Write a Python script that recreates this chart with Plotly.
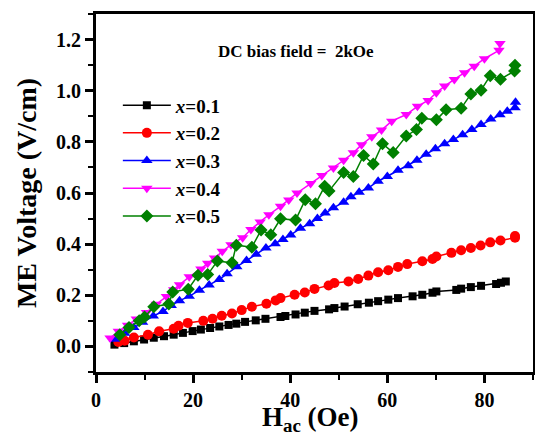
import plotly.graph_objects as go

# ---- data ----
names = ["<i>x</i>=0.1", "<i>x</i>=0.2", "<i>x</i>=0.3", "<i>x</i>=0.4", "<i>x</i>=0.5"]

h1 = [3.8, 5.8, 7.8, 9.9, 11.9, 14.0, 16.0, 17.9, 19.9, 21.6, 23.5, 25.4, 27.3, 28.9, 30.7,
      32.9, 34.9, 38.0, 39.0, 41.1, 43.0, 45.0, 48.0, 49.1, 51.2, 53.9, 56.2, 58.1, 60.2, 62.2,
      65.2, 67.2, 69.3, 70.1, 74.2, 75.2, 77.2, 79.3, 82.4, 83.4, 84.4]
v1 = [0.007, 0.013, 0.020, 0.027, 0.034, 0.040, 0.046, 0.053, 0.060, 0.066, 0.072, 0.078, 0.084,
      0.089, 0.096, 0.102, 0.108, 0.115, 0.119, 0.125, 0.132, 0.139, 0.145, 0.150, 0.156, 0.165,
      0.171, 0.177, 0.183, 0.189, 0.196, 0.202, 0.210, 0.215, 0.221, 0.226, 0.232, 0.237, 0.244,
      0.249, 0.254]

h2 = [4.6, 5.9, 7.8, 10.7, 13.0, 16.0, 17.0, 18.9, 22.1, 24.0, 25.9, 28.0, 30.0, 32.1, 35.1,
      37.0, 38.0, 40.9, 43.0, 45.0, 47.9, 49.1, 52.0, 54.0, 56.1, 58.1, 60.2, 62.2, 64.1, 67.2,
      69.3, 70.1, 73.2, 75.2, 77.2, 79.2, 81.2, 83.3, 86.3, 86.3]
v2 = [0.017, 0.022, 0.035, 0.046, 0.059, 0.069, 0.081, 0.092, 0.100, 0.108, 0.120, 0.129, 0.142,
      0.155, 0.167, 0.180, 0.189, 0.202, 0.211, 0.225, 0.238, 0.248, 0.254, 0.264, 0.277, 0.290,
      0.298, 0.311, 0.322, 0.333, 0.342, 0.352, 0.366, 0.376, 0.385, 0.395, 0.407, 0.414, 0.425,
      0.432]

h3 = [3.8, 5.9, 7.8, 9.6, 11.8, 13.8, 15.5, 17.2, 19.2, 21.3, 23.3, 25.4, 27.0, 29.0, 31.0,
      33.0, 35.0, 36.9, 38.5, 40.1, 42.1, 44.0, 45.6, 47.2, 48.9, 51.0, 52.5, 54.2, 56.1, 58.1,
      60.0, 62.2, 64.3, 66.1, 68.0, 69.9, 71.8, 73.6, 75.5, 77.4, 79.3, 81.3, 83.2, 84.7, 86.3,
      86.4]
v3 = [0.028, 0.052, 0.074, 0.095, 0.119, 0.137, 0.160, 0.179, 0.196, 0.220, 0.240, 0.262, 0.284,
      0.312, 0.336, 0.360, 0.385, 0.402, 0.418, 0.436, 0.462, 0.480, 0.500, 0.522, 0.542, 0.564,
      0.585, 0.603, 0.620, 0.646, 0.665, 0.689, 0.707, 0.728, 0.752, 0.773, 0.793, 0.809, 0.828,
      0.848, 0.868, 0.889, 0.906, 0.920, 0.933, 0.955]

h4 = [2.9, 4.6, 6.5, 8.3, 10.4, 12.4, 14.5, 16.0, 17.2, 19.2, 21.6, 23.0, 24.4, 26.0, 27.8,
      30.2, 31.9, 33.8, 35.6, 38.0, 39.7, 41.4, 44.2, 46.5, 48.9, 51.0, 53.0, 54.7, 56.8, 58.8,
      60.9, 63.9, 66.2, 68.4, 70.1, 71.8, 73.8, 75.9, 77.9, 80.0, 83.0, 83.2]
v4 = [0.033, 0.059, 0.083, 0.107, 0.133, 0.165, 0.195, 0.222, 0.241, 0.272, 0.303, 0.325, 0.346,
      0.372, 0.398, 0.425, 0.457, 0.487, 0.515, 0.548, 0.573, 0.600, 0.637, 0.668, 0.698, 0.728,
      0.757, 0.789, 0.820, 0.846, 0.881, 0.907, 0.939, 0.962, 0.992, 1.018, 1.044, 1.070, 1.096,
      1.125, 1.158, 1.185]

h5 = [4.9, 6.8, 8.9, 10.0, 11.9, 15.0, 15.8, 19.0, 21.0, 23.0, 25.0, 28.0, 28.9, 32.1, 34.0,
      36.0, 38.0, 41.1, 43.1, 45.2, 47.1, 48.0, 51.0, 53.0, 55.1, 57.1, 59.0, 61.2, 63.9, 66.0,
      67.1, 70.1, 72.1, 75.2, 77.2, 79.3, 81.2, 83.3, 86.2, 86.3]
v5 = [0.046, 0.074, 0.100, 0.115, 0.155, 0.166, 0.213, 0.224, 0.278, 0.281, 0.334, 0.327, 0.396,
      0.388, 0.455, 0.437, 0.499, 0.494, 0.574, 0.558, 0.626, 0.608, 0.680, 0.665, 0.747, 0.713,
      0.793, 0.758, 0.823, 0.848, 0.892, 0.886, 0.926, 0.931, 0.987, 1.002, 1.059, 1.045, 1.077,
      1.100]

xs = [h1, h2, h3, h4, h5]
ys = [v1, v2, v3, v4, v5]
colors = ["#000000", "#FF0000", "#0000FF", "#FF00FF", "#008000"]
symbols = ["square", "circle", "triangle-up", "triangle-down", "diamond"]
msizes = [8, 10, 10, 10, 10]

x_ticks = [0, 20, 40, 60, 80]
y_ticks = [0.0, 0.2, 0.4, 0.6, 0.8, 1.0, 1.2]

FONT = "Liberation Serif"

fig = go.Figure()
for n, x, y, c, s, ms in zip(names, xs, ys, colors, symbols, msizes):
    fig.add_trace(go.Scatter(
        x=x, y=y, name=n, mode="lines+markers",
        line=dict(color=c, width=1.5),
        marker=dict(symbol=s, size=ms, color=c, line=dict(width=0)),
    ))

axis_common = dict(
    showline=True, linecolor="black", linewidth=3, mirror=True,
    ticks="outside", ticklen=8, tickwidth=2.5, tickcolor="black",
    showgrid=False, zeroline=False, automargin=False,
    tickfont=dict(family=FONT, size=20, color="black", weight="bold"),
)

fig.update_xaxes(
    range=[0, 90], tickvals=x_ticks,
    minor=dict(dtick=10, tick0=0, ticks="outside", ticklen=5, tickwidth=2, tickcolor="black"),
    **axis_common,
)
fig.update_yaxes(
    range=[-0.1, 1.3], tickvals=y_ticks, tickformat=".1f",
    minor=dict(dtick=0.1, tick0=0, ticks="outside", ticklen=5, tickwidth=2, tickcolor="black"),
    title=dict(text="ME Voltage (V/cm)", font=dict(family=FONT, size=28, color="black", weight="bold"),
               standoff=12),
    **axis_common,
)

# x-axis title
fig.add_annotation(
    x=0.49, y=-0.131, xref="paper", yref="paper", text="H<sub>ac</sub> (Oe)", showarrow=False,
    xanchor="center", yanchor="middle",
    font=dict(family=FONT, size=27, color="black", weight="bold"),
)

fig.add_annotation(
    x=41.1, y=1.153, xref="x", yref="y", text="DC bias field =\u00a0\u00a02kOe", showarrow=False,
    xanchor="center", yanchor="middle",
    font=dict(family=FONT, size=17, color="black", weight="bold"),
)

fig.update_layout(
    width=535, height=436,
    margin=dict(l=96, r=2, t=14, b=64, autoexpand=False),
    paper_bgcolor="white", plot_bgcolor="white",
    showlegend=True,
    legend=dict(
        x=0.05, y=0.798, xanchor="left", yanchor="top",
        bgcolor="rgba(0,0,0,0)", itemwidth=48,
        font=dict(family=FONT, size=19, color="black", weight="bold"),
        tracegroupgap=0,
    ),
)

fig.write_html("out.html", config={"displayModeBar": False},
               post_script="document.body.style.margin='0';")
